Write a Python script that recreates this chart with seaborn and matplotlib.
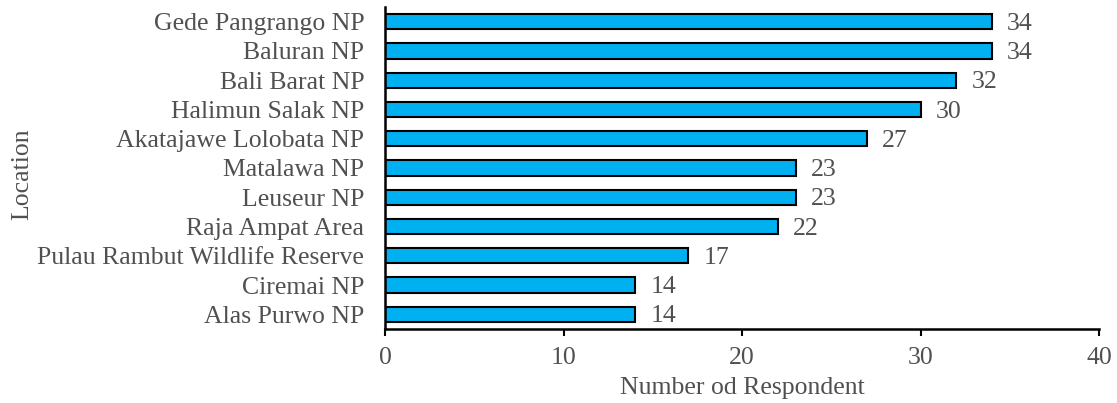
import matplotlib
matplotlib.use("Agg")
import matplotlib.pyplot as plt
import seaborn as sns
import pandas as pd

locations = [
    "Gede Pangrango NP", "Baluran NP", "Bali Barat NP", "Halimun Salak NP",
    "Akatajawe Lolobata NP", "Matalawa NP", "Leuseur NP", "Raja Ampat Area",
    "Pulau Rambut Wildlife Reserve", "Ciremai NP", "Alas Purwo NP",
]
respondents = [34, 34, 32, 30, 27, 23, 23, 22, 17, 14, 14]
x_ticks = [0, 10, 20, 30, 40]

df = pd.DataFrame({"Location": locations, "Respondents": respondents})

sns.set_theme(style="white")
plt.rcParams["font.family"] = ["Liberation Serif", "DejaVu Serif"]
text_color = "#505050"
fs = 18.5

fig = plt.figure(figsize=(11.17, 4.03), dpi=100)
ax = fig.add_axes([385 / 1117, 1 - 329 / 403, 714 / 1117, 322 / 403])

sns.barplot(data=df, x="Respondents", y="Location", orient="h",
            color="#00B0F0", saturation=1, width=0.52,
            edgecolor="black", linewidth=1.5, ax=ax)

for patch, val in zip(ax.patches, respondents):
    y = patch.get_y() + patch.get_height() / 2
    ax.annotate(f"{val}", xy=(val, y), xytext=(11, -1.5), textcoords="offset points",
                va="center", ha="left", fontsize=fs, color=text_color)

ax.set_xlim(0, 40)
ax.set_xticks(x_ticks)
ax.set_xticklabels([str(t) for t in x_ticks])
ax.set_xlabel("Number od Respondent", fontsize=fs, color=text_color, labelpad=6)
ax.set_ylabel("Location", fontsize=fs, color=text_color)
ax.yaxis.set_label_coords(-0.493, 0.48)

ax.tick_params(axis="x", which="major", direction="out", length=5, width=1.5,
               color="black", labelsize=fs, labelcolor=text_color, bottom=True, pad=8)
ax.tick_params(axis="y", length=0, labelsize=fs, labelcolor=text_color, pad=15)

for side in ["top", "right"]:
    ax.spines[side].set_visible(False)
for side in ["left", "bottom"]:
    ax.spines[side].set_color("black")
    ax.spines[side].set_linewidth(1.8)

fig.savefig("out.png", dpi=100)
